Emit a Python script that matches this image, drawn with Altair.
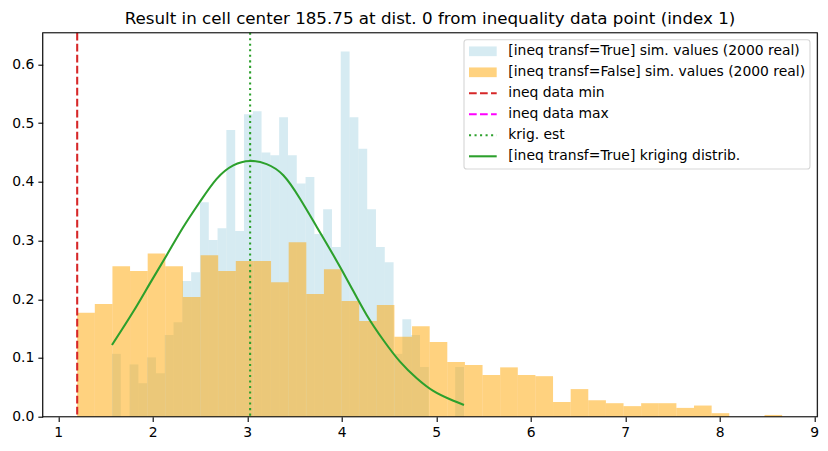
import altair as alt
import numpy as np
import pandas as pd

# ---------------- data ----------------
blue_heights = [0.107, 0.0, 0.089, 0.057, 0.101, 0.074, 0.139, 0.161, 0.231, 0.246,
                0.365, 0.301, 0.321, 0.488, 0.316, 0.515, 0.520, 0.450, 0.445, 0.510,
                0.445, 0.397, 0.408, 0.311, 0.353, 0.289, 0.622, 0.510, 0.456, 0.353,
                0.289, 0.263, 0.107, 0.166, 0.139, 0.0845, 0.0, 0.0, 0.0, 0.0845]
blue_range = [1.568, 5.293]

orange_heights = [0.177, 0.192, 0.256, 0.248, 0.278, 0.256, 0.204, 0.275, 0.248, 0.265,
                  0.265, 0.229, 0.297, 0.209, 0.251, 0.197, 0.163, 0.190, 0.136, 0.154,
                  0.127, 0.093, 0.088, 0.071, 0.084, 0.071, 0.069, 0.025, 0.047, 0.028,
                  0.023, 0.018, 0.023, 0.023, 0.015, 0.019, 0.006, 0.0, 0.0, 0.003]
orange_range = [1.2, 8.66]

ineq_min = [1.2]
krig_est = [3.03]

curve_x = [1.568, 1.794, 1.970, 2.147, 2.323, 2.499, 2.676, 2.852, 3.029, 3.205, 3.381,
           3.558, 3.734, 3.910, 4.087, 4.263, 4.439, 4.616, 4.793, 4.968, 5.145, 5.293]
curve_y = [0.122, 0.179, 0.227, 0.275, 0.323, 0.366, 0.405, 0.428, 0.4355, 0.430, 0.411,
           0.371, 0.3235, 0.2753, 0.2243, 0.1732, 0.1306, 0.0937, 0.0654, 0.0438, 0.0296, 0.020]

x_ticks = [1, 2, 3, 4, 5, 6, 7, 8, 9]
y_ticks = [0.0, 0.1, 0.2, 0.3, 0.4, 0.5, 0.6]

title_text = "Result in cell center 185.75 at dist. 0 from inequality data point (index 1)"
legend_labels = [
    "[ineq transf=True] sim. values (2000 real)",
    "[ineq transf=False] sim. values (2000 real)",
    "ineq data min",
    "ineq data max",
    "krig. est",
    "[ineq transf=True] kriging distrib.",
]

# ---------------- layout ----------------
W, H = 774.6, 384.0
PAD_L, PAD_T = 42.7, 32.7
PAD_R = 828 - PAD_L - W
PAD_B = 451 - PAD_T - H
FONT = "DejaVu Sans"

BLUE = "#add8e6"
ORANGE = "#ffa500"
RED = "#d62728"
MAGENTA = "#ff00ff"
GREEN = "#2ca02c"
LW = 2.08


def hist_df(heights, rng):
    edges = np.linspace(rng[0], rng[1], len(heights) + 1)
    return pd.DataFrame({"x0": edges[:-1], "x1": edges[1:],
                         "density": heights, "zero": 0.0})


x_scale = alt.Scale(domain=[0.835, 9.032], nice=False, zero=False)
y_scale = alt.Scale(domain=[0.0, 0.6538], nice=False, zero=False)

x_axis = alt.Axis(values=x_ticks, format="d", title=None, grid=False, domain=False,
                  tickColor="black", tickSize=4.86, tickWidth=1.1,
                  labelFont=FONT, labelFontSize=13.9, labelColor="black",
                  labelPadding=4.0, labelFlush=False, labelOverlap=False)
y_axis = alt.Axis(values=y_ticks, format=".1f", title=None, grid=False, domain=False,
                  tickColor="black", tickSize=4.86, tickWidth=1.1,
                  labelFont=FONT, labelFontSize=13.9, labelColor="black",
                  labelPadding=4.0, labelFlush=False, labelOverlap=False)

blue = alt.Chart(hist_df(blue_heights, blue_range)).mark_rect(
    color=BLUE, opacity=0.5
).encode(
    x=alt.X("x0:Q", scale=x_scale, axis=x_axis),
    x2="x1:Q",
    y=alt.Y("density:Q", scale=y_scale, axis=y_axis),
    y2="zero:Q",
)

orange = alt.Chart(hist_df(orange_heights, orange_range)).mark_rect(
    color=ORANGE, opacity=0.5
).encode(
    x=alt.X("x0:Q", scale=x_scale),
    x2="x1:Q",
    y=alt.Y("density:Q", scale=y_scale),
    y2="zero:Q",
)

red_line = alt.Chart(pd.DataFrame({"x": ineq_min})).mark_rule(
    color=RED, strokeDash=[7.7, 3.3], strokeWidth=LW
).encode(x=alt.X("x:Q", scale=x_scale))

krig_line = alt.Chart(pd.DataFrame({"x": krig_est})).mark_rule(
    color=GREEN, strokeDash=[2.08, 3.44], strokeWidth=LW
).encode(x=alt.X("x:Q", scale=x_scale))

curve = alt.Chart(pd.DataFrame({"x": curve_x, "y": curve_y})).mark_line(
    color=GREEN, strokeWidth=LW, interpolate="natural"
).encode(
    x=alt.X("x:Q", scale=x_scale),
    y=alt.Y("y:Q", scale=y_scale),
)

frame = alt.Chart(pd.DataFrame({"a": [0]})).mark_rect(
    fillOpacity=0, stroke="black", strokeWidth=1.1
).encode(x=alt.value(0), x2=alt.value(W), y=alt.value(0), y2=alt.value(H))

title = alt.Chart(pd.DataFrame({"t": [title_text]})).mark_text(
    align="center", baseline="alphabetic", font=FONT, fontSize=16.7, color="black"
).encode(x=alt.value(W / 2), y=alt.value(24.3 - PAD_T), text="t:N")

# ---------------- legend (drawn inside the axes, like matplotlib) ----------------
LX0 = 464 - PAD_L
LX1 = 810 - PAD_L
LY0 = 39.7 - PAD_T
LY1 = 169 - PAD_T
HX0 = 469 - PAD_L
HX1 = 496.7 - PAD_L
TX = 508.3 - PAD_L
ROW0 = 51.3 - PAD_T
ROWH = 21.0

legend_layers = [
    alt.Chart(pd.DataFrame({"a": [0]})).mark_rect(
        fill="white", fillOpacity=0.8, stroke="#cccccc", strokeOpacity=0.8,
        strokeWidth=1.1, cornerRadius=2.8
    ).encode(x=alt.value(LX0), x2=alt.value(LX1), y=alt.value(LY0), y2=alt.value(LY1))
]

patch_colors = [BLUE, ORANGE]
for i, c in enumerate(patch_colors):
    ry = ROW0 + ROWH * i
    legend_layers.append(
        alt.Chart(pd.DataFrame({"a": [0]})).mark_rect(color=c, opacity=0.5).encode(
            x=alt.value(HX0), x2=alt.value(HX1),
            y=alt.value(ry - 4.85), y2=alt.value(ry + 4.85))
    )

line_styles = [(RED, [7.7, 3.3]), (MAGENTA, [7.7, 3.3]), (GREEN, [2.08, 3.44]), (GREEN, None)]
for j, (c, dash) in enumerate(line_styles):
    ry = ROW0 + ROWH * (j + 2)
    kw = dict(color=c, strokeWidth=LW)
    if dash is not None:
        kw["strokeDash"] = dash
    legend_layers.append(
        alt.Chart(pd.DataFrame({"a": [0]})).mark_rule(**kw).encode(
            x=alt.value(HX0), x2=alt.value(HX1), y=alt.value(ry))
    )

for i, lab in enumerate(legend_labels):
    ry = ROW0 + ROWH * i
    legend_layers.append(
        alt.Chart(pd.DataFrame({"label": [lab]})).mark_text(
            align="left", baseline="middle", font=FONT, fontSize=13.9, color="black"
        ).encode(x=alt.value(TX), y=alt.value(ry), text="label:N")
    )

chart = alt.layer(
    blue, orange, red_line, krig_line, curve, frame, title, *legend_layers
).properties(
    width=W, height=H,
    autosize=alt.AutoSizeParams(type="none"),
    padding={"left": PAD_L, "top": PAD_T, "right": PAD_R, "bottom": PAD_B},
).configure_view(stroke=None).configure(background="white")

chart.save("out.html", embed_options={"renderer": "svg", "actions": False})
